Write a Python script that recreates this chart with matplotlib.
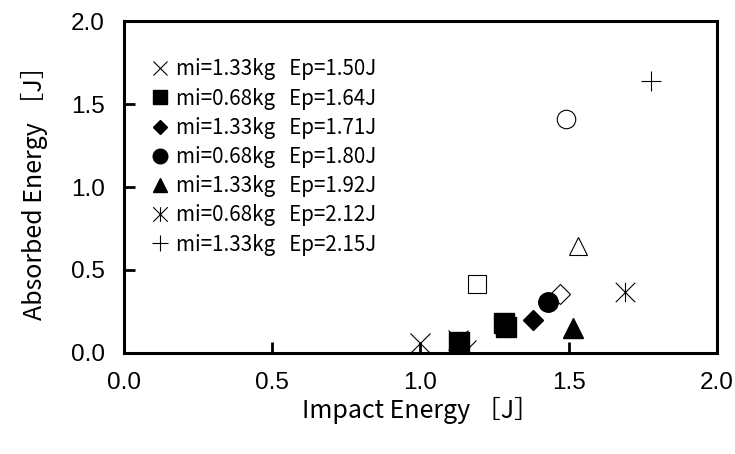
import matplotlib
matplotlib.use("Agg")
import matplotlib.pyplot as plt
from matplotlib.path import Path

# Series: (x = impact energy, y = absorbed energy)
cross_x = [1.00, 1.125, 1.155]
cross_y = [0.06, 0.08, 0.02]
square_x = [1.13, 1.28, 1.29]
square_y = [0.066, 0.18, 0.155]
diamond_x = [1.38]
diamond_y = [0.20]
circle_x = [1.43]
circle_y = [0.31]
triangle_x = [1.515]
triangle_y = [0.15]
star_x = [1.69]
star_y = [0.37]
plus_x = [1.777]
plus_y = [1.64]

# Open-symbol series (not listed in the legend)
open_square_x = [1.19]
open_square_y = [0.416]
open_circle_x = [1.49]
open_circle_y = [1.41]
open_triangle_x = [1.53]
open_triangle_y = [0.645]
open_diamond_x = [1.47]
open_diamond_y = [0.355]

labels = [
    "mi=1.33kg   Ep=1.50J",
    "mi=0.68kg   Ep=1.64J",
    "mi=1.33kg   Ep=1.71J",
    "mi=0.68kg   Ep=1.80J",
    "mi=1.33kg   Ep=1.92J",
    "mi=0.68kg   Ep=2.12J",
    "mi=1.33kg   Ep=2.15J",
]
x_ticks = [0.0, 0.5, 1.0, 1.5, 2.0]
y_ticks = [0.0, 0.5, 1.0, 1.5, 2.0]

# six-spoke asterisk marker (an "x" with a vertical bar)
star_marker = Path(
    [(-1, -1), (1, 1), (-1, 1), (1, -1), (0, -1), (0, 1)],
    [Path.MOVETO, Path.LINETO, Path.MOVETO, Path.LINETO, Path.MOVETO, Path.LINETO],
)

jp = ["Noto Sans CJK JP", "DejaVu Sans"]

fig = plt.figure(figsize=(7.35, 4.54), dpi=100)
ax = fig.add_axes([0.1687, 0.2225, 0.8068, 0.7312])

ms = 14
lw = 0.8
handles = []
handles.append(ax.plot(cross_x, cross_y, ls="none", marker="x", ms=ms, mew=lw,
                       color="black", label=labels[0], zorder=5)[0])
handles.append(ax.plot(square_x, square_y, ls="none", marker="s", ms=ms,
                       color="black", label=labels[1], zorder=4)[0])
handles.append(ax.plot(diamond_x, diamond_y, ls="none", marker="D", ms=ms * 0.72,
                       color="black", label=labels[2], zorder=4)[0])
handles.append(ax.plot(circle_x, circle_y, ls="none", marker="o", ms=ms,
                       color="black", label=labels[3], zorder=4)[0])
handles.append(ax.plot(triangle_x, triangle_y, ls="none", marker="^", ms=ms,
                       color="black", label=labels[4], zorder=4)[0])
handles.append(ax.plot(star_x, star_y, ls="none", marker=star_marker, ms=ms, mew=lw,
                       color="black", label=labels[5], zorder=4)[0])
handles.append(ax.plot(plus_x, plus_y, ls="none", marker="+", ms=ms * 1.05, mew=lw,
                       color="black", label=labels[6], zorder=4)[0])

ax.plot(open_square_x, open_square_y, ls="none", marker="s", ms=ms * 0.95,
        mfc="white", mec="black", mew=lw, zorder=3)
ax.plot(open_diamond_x, open_diamond_y, ls="none", marker="D", ms=ms * 0.72,
        mfc="white", mec="black", mew=lw, zorder=3)
ax.plot(open_circle_x, open_circle_y, ls="none", marker="o", ms=ms * 0.95,
        mfc="white", mec="black", mew=lw, zorder=3)
ax.plot(open_triangle_x, open_triangle_y, ls="none", marker="^", ms=ms * 0.95,
        mfc="white", mec="black", mew=lw, zorder=3)

ax.set_xlim(0, 2)
ax.set_ylim(0, 2)
ax.set_xticks(x_ticks)
ax.set_yticks(y_ticks)
ax.set_xticklabels([f"{v:.1f}" for v in x_ticks], family="Liberation Sans", fontsize=17.5)
ax.set_yticklabels([f"{v:.1f}" for v in y_ticks], family="Liberation Sans", fontsize=17.5)
ax.tick_params(direction="in", length=8, width=2, pad=14, top=False, right=False)
for side in ["left", "right", "top", "bottom"]:
    ax.spines[side].set_linewidth(2.2)

ax.set_xlabel("Impact Energy ［J］", family=jp, fontsize=18, labelpad=2)
ax.set_ylabel("Absorbed Energy ［J］", family=jp, fontsize=18, labelpad=16)

ax.legend(handles=handles, loc="upper left", bbox_to_anchor=(0.0327, 0.912),
          frameon=False, markerscale=0.75, handlelength=0.85, handletextpad=0.32,
          labelspacing=0.35, borderaxespad=0, borderpad=0.4,
          prop={"family": jp, "size": 14.8})

fig.savefig("out.png", dpi=100)
